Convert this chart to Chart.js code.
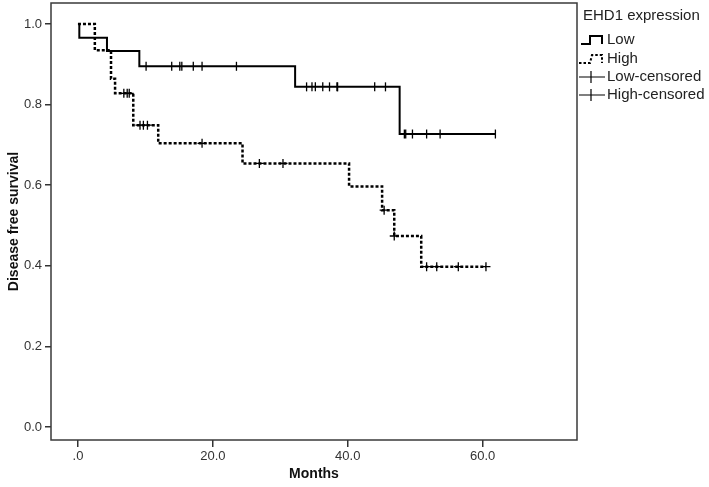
<!DOCTYPE html>
<html>
<head>
<meta charset="utf-8">
<script src="https://cdn.jsdelivr.net/npm/chart.js@4/dist/chart.umd.min.js"></script>
<style>
  html, body { margin: 0; padding: 0; background: #fff; }
  #wrap { width: 709px; height: 487px; position: relative; }
</style>
</head>
<body>
<div id="wrap"><canvas id="km" width="709" height="487"></canvas></div>
<script>
// Kaplan-Meier steps (months, survival)
var lowTimes = [0, 0.2, 4.3, 9.1, 32.2, 47.7, 61.9];
var lowSurv = [1.0, 0.966, 0.933, 0.895, 0.844, 0.727, 0.727];
var highTimes = [0, 2.5, 4.9, 5.5, 8.2, 11.9, 24.4, 40.2, 45.1, 46.9, 50.9, 60.5];
var highSurv = [1.0, 0.935, 0.864, 0.828, 0.749, 0.704, 0.654, 0.597, 0.538, 0.474, 0.398, 0.398];

// censored times
var lowCensored = [10.1, 13.9, 15.1, 15.4, 17.1, 18.4, 23.5, 33.9, 34.7, 35.2, 36.3, 37.3, 38.4, 38.5, 44.0, 45.6, 48.4, 48.6, 49.6, 51.7, 53.7, 61.9];
var highCensored = [6.8, 7.3, 7.6, 9.2, 9.7, 10.3, 18.4, 26.9, 30.4, 45.4, 46.9, 51.7, 53.2, 56.4, 60.5];

var xTicks = [0, 20, 40, 60];
var xTickLabels = ['.0', '20.0', '40.0', '60.0'];
var yTicks = [0, 0.2, 0.4, 0.6, 0.8, 1.0];
var yTickLabels = ['0.0', '0.2', '0.4', '0.6', '0.8', '1.0'];

var legendTitle = 'EHD1 expression';
var legendLabels = ['Low', 'High', 'Low-censored', 'High-censored'];

function stepPoints(times, surv) {
    return times.map(function(t, i) { return { x: t, y: surv[i] }; });
}

// survival value of a curve at time t
function survAt(times, surv, t) {
    var v = surv[0];
    for (var i = 0; i < times.length; i++) {
        if (times[i] <= t) v = surv[i];
    }
    return v;
}

function censorPoints(cens, times, surv) {
    return cens.map(function(t) { return { x: t, y: survAt(times, surv, t) }; });
}

var tickFont = { family: "'Liberation Sans Narrow', 'Arial Narrow', 'Liberation Sans', Arial, sans-serif", size: 13 };
var titleFont = { family: "'Liberation Sans', Arial, sans-serif", size: 14, weight: 'bold' };

// frame around plot + legend at right
var framePlugin = {
    id: 'frame',
    afterDraw: function(chart) {
        var ctx = chart.ctx, a = chart.chartArea;
        ctx.save();
        ctx.strokeStyle = '#3a3a3a';
        ctx.lineWidth = 1.5;
        ctx.strokeRect(a.left, a.top, a.right - a.left, a.bottom - a.top);

        // legend
        var lx = 583, tx = 607;
        ctx.fillStyle = '#222';
        ctx.font = "15px 'Liberation Sans', Arial, sans-serif";
        ctx.textBaseline = 'middle';
        ctx.textAlign = 'left';
        ctx.fillText(legendTitle, lx, 16);
        var rows = [40, 59, 77, 95];
        for (var i = 0; i < legendLabels.length; i++) {
            ctx.fillText(legendLabels[i], tx, rows[i]);
        }
        ctx.strokeStyle = '#000';
        // Low symbol
        ctx.lineWidth = 2;
        ctx.setLineDash([]);
        ctx.beginPath();
        ctx.moveTo(581, rows[0] + 4); ctx.lineTo(590, rows[0] + 4);
        ctx.lineTo(590, rows[0] - 4); ctx.lineTo(602, rows[0] - 4); ctx.lineTo(602, rows[0] + 4);
        ctx.stroke();
        // High symbol
        ctx.setLineDash([2.5, 2]);
        ctx.beginPath();
        ctx.moveTo(579, rows[1] + 4); ctx.lineTo(590, rows[1] + 4);
        ctx.lineTo(592, rows[1] - 4); ctx.lineTo(602, rows[1] - 4); ctx.lineTo(602, rows[1] + 4);
        ctx.stroke();
        // censored symbols
        ctx.setLineDash([]);
        ctx.lineWidth = 1.2;
        for (var k = 2; k < 4; k++) {
            ctx.beginPath();
            ctx.moveTo(579, rows[k]); ctx.lineTo(605, rows[k]);
            ctx.moveTo(591, rows[k] - 6); ctx.lineTo(591, rows[k] + 6);
            ctx.stroke();
        }
        ctx.restore();
    }
};

new Chart(document.getElementById('km'), {
    type: 'line',
    data: {
        datasets: [
            { label: 'Low', data: stepPoints(lowTimes, lowSurv), stepped: 'before', borderColor: '#000', borderWidth: 2, pointRadius: 0, fill: false },
            { label: 'High', data: stepPoints(highTimes, highSurv), stepped: 'before', borderColor: '#000', borderWidth: 2.5, borderDash: [3, 2], pointRadius: 0, fill: false },
            { label: 'Low-censored', type: 'scatter', data: censorPoints(lowCensored, lowTimes, lowSurv), pointStyle: 'line', rotation: 90, pointRadius: 4.5, borderColor: '#000', borderWidth: 1.3, showLine: false },
            { label: 'High-censored', type: 'scatter', data: censorPoints(highCensored, highTimes, highSurv), pointStyle: 'cross', pointRadius: 4.5, borderColor: '#000', borderWidth: 1.3, showLine: false }
        ]
    },
    options: {
        responsive: false,
        animation: false,
        devicePixelRatio: 1,
        layout: { autoPadding: false, padding: { top: 3, right: 132, left: 0, bottom: 0 } },
        plugins: { legend: { display: false }, tooltip: { enabled: false } },
        scales: {
            x: {
                type: 'linear',
                min: -4, max: 74,
                afterBuildTicks: function(s) { s.ticks = xTicks.map(function(v) { return { value: v }; }); },
                afterFit: function(s) { s.height = 47; s.paddingLeft = 0; s.paddingRight = 0; },
                ticks: {
                    font: tickFont, color: '#333', padding: 2, maxRotation: 0,
                    callback: function(v) { return xTickLabels[xTicks.indexOf(v)]; }
                },
                grid: { display: true, drawOnChartArea: false, drawTicks: true, tickLength: 7, color: '#333', lineWidth: 1.5 },
                border: { display: false },
                title: { display: true, text: 'Months', font: titleFont, color: '#111', padding: { top: 0, bottom: 4 } }
            },
            y: {
                type: 'linear',
                min: -0.032, max: 1.052,
                afterBuildTicks: function(s) { s.ticks = yTicks.map(function(v) { return { value: v }; }); },
                afterFit: function(s) { s.width = 51; s.paddingTop = 0; s.paddingBottom = 0; },
                ticks: {
                    font: tickFont, color: '#333', padding: 3,
                    callback: function(v) { return yTickLabels[yTicks.indexOf(v)]; }
                },
                grid: { display: true, drawOnChartArea: false, drawTicks: true, tickLength: 6, color: '#333', lineWidth: 1.5 },
                border: { display: false },
                title: { display: true, text: 'Disease free survival', font: titleFont, color: '#111', padding: { top: 6, bottom: 0 } }
            }
        }
    },
    plugins: [framePlugin]
});
</script>
</body>
</html>
